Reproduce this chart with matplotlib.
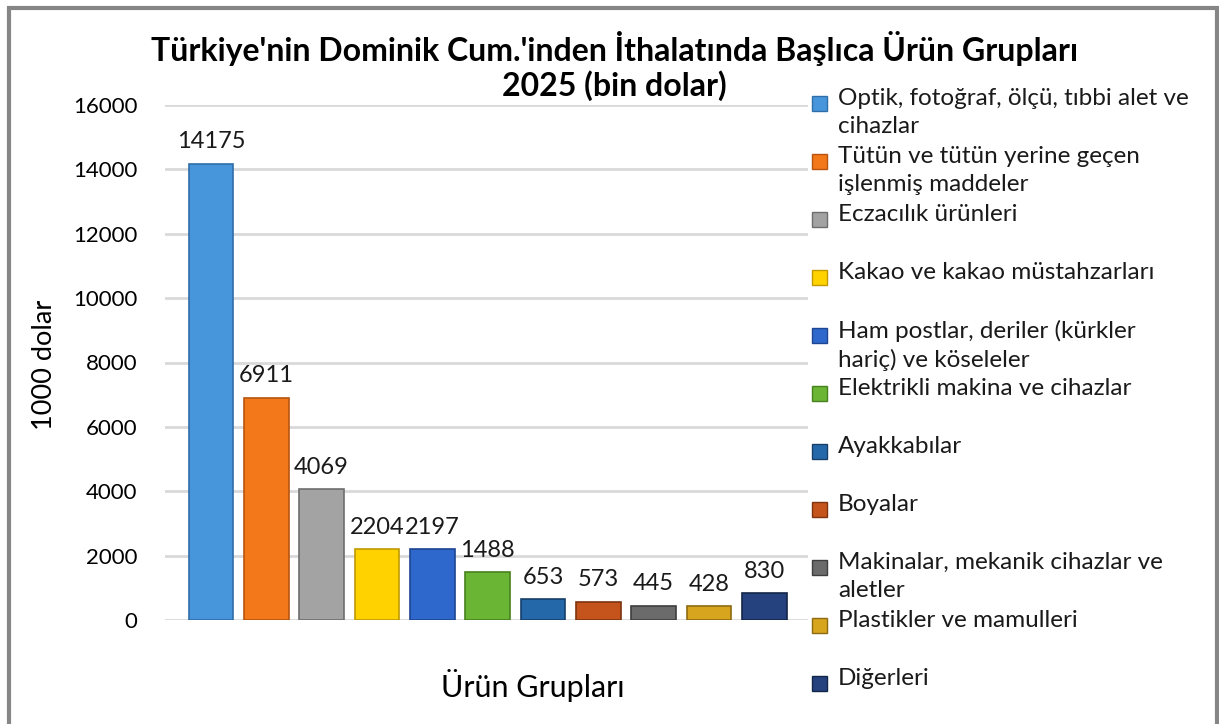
import matplotlib.pyplot as plt
from matplotlib.patches import Rectangle

plt.rcParams['font.family'] = ['Lato', 'DejaVu Sans']

categories = [
    "Optik, fotoğraf, ölçü, tıbbi alet ve\ncihazlar",
    "Tütün ve tütün yerine geçen\nişlenmiş maddeler",
    "Eczacılık ürünleri",
    "Kakao ve kakao müstahzarları",
    "Ham postlar, deriler (kürkler\nhariç) ve köseleler",
    "Elektrikli makina ve cihazlar",
    "Ayakkabılar",
    "Boyalar",
    "Makinalar, mekanik cihazlar ve\naletler",
    "Plastikler ve mamulleri",
    "Diğerleri",
]
values = [14175, 6911, 4069, 2204, 2197, 1488, 653, 573, 445, 428, 830]
colors = ["#4796DC", "#F2781A", "#A3A3A3", "#FFD200", "#2F68CC", "#6BB535",
          "#2468AA", "#C4541C", "#6B6B6B", "#D8A51E", "#25427F"]
edges = ["#2F6EA8", "#B85410", "#6E6E6E", "#C09A00", "#1D4590", "#46821E",
         "#163F6A", "#7E3410", "#3E3E3E", "#8E6A10", "#142648"]

W, H = 1219, 724
fig = plt.figure(figsize=(W / 100, H / 100), dpi=100)
ax = fig.add_axes([165 / W, 1 - 620 / H, (808 - 165) / W, (620 - 105) / H])

x = list(range(len(values)))
ax.bar(x, values, width=0.81, color=colors, edgecolor=edges, linewidth=1.2, zorder=3)
for xi, v in zip(x, values):
    ax.text(xi, v + 350, str(v), ha='center', va='bottom', fontsize=17, color='#1a1a1a')

ax.set_ylim(0, 16000)
ax.set_xlim(-0.83, 10.79)
ax.set_yticks(range(0, 16001, 2000))
ax.tick_params(axis='y', length=0, pad=20, labelsize=16)
ax.set_xticks([])
ax.grid(axis='y', color='#D9D9D9', linewidth=2, zorder=0)
for s in ax.spines.values():
    s.set_visible(False)

fig.text(45 / W, 1 - 365 / H, "1000 dolar", rotation=90, ha='center', va='center', fontsize=19.5)
fig.text(533 / W, 1 - 686 / H, "Ürün Grupları", ha='center', va='center', fontsize=22)
fig.text(615 / W, 1 - 48 / H, "Türkiye'nin Dominik Cum.'inden İthalatında Başlıca Ürün Grupları",
         ha='center', va='center', fontsize=23, fontweight='bold')
fig.text(614 / W, 1 - 86 / H, "2025 (bin dolar)", ha='center', va='center',
         fontsize=23, fontweight='bold')

# legend drawn by hand, evenly spaced like the original
for i, (lab, c, e) in enumerate(zip(categories, colors, edges)):
    yc = 104 + i * 58
    fig.patches.append(Rectangle((812 / W, 1 - (yc + 7) / H), 15 / W, 15 / H,
                                 transform=fig.transFigure, facecolor=c, edgecolor=e, linewidth=1))
    fig.text(838 / W, 1 - (yc - 16) / H, lab, ha='left', va='top', fontsize=17.5,
             linespacing=1.4, color='#1a1a1a')

fig.patches.append(Rectangle((9 / W, -0.05), (1217 - 9) / W, 1 - 8 / H + 0.05,
                             transform=fig.transFigure, fill=False, edgecolor='#868686', linewidth=3))

fig.savefig('out.png', dpi=100)
